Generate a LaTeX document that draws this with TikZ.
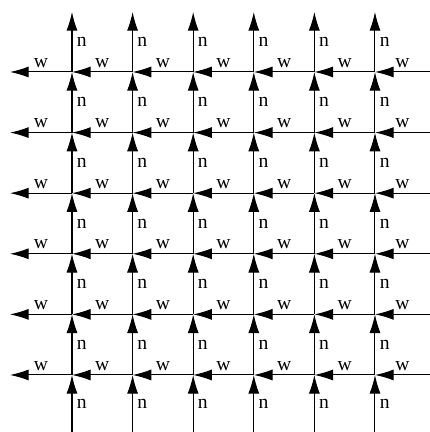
\documentclass[tikz,border=0pt]{standalone}
\usepackage{fontspec}
\setmainfont{Liberation Serif}
\usetikzlibrary{arrows.meta}
\tikzset{
  flow/.style={-{Latex[length=11pt,width=6.5pt]}, line width=0.6pt},
  lbl/.style={inner sep=2.5pt, font=\fontsize{11.5}{13}\selectfont}
}

\begin{document}
\begin{tikzpicture}[x=1.25cm,y=1.25cm]
    \useasboundingbox (0,0) rectangle (7.096,7.129);

    % grid points, row 0 on top
    \foreach \i in {0,...,5}
      \foreach \j in {0,...,5}
        \coordinate (p-\i-\j) at ({1.188+\i},{5.941-\j});

    % free ends on the border
    \foreach \i in {0,...,5} {
      \coordinate (top-\i) at ({1.188+\i},6.931);
      \coordinate (bot-\i) at ({1.188+\i},0);
      \coordinate (lft-\i) at (0.165,{5.941-\i});
      \coordinate (rgt-\i) at (7.096,{5.941-\i});
    }

    % north arrows
    \foreach \i in {0,...,5} {
      \draw[flow] (bot-\i) -- node[lbl,right] {n} (p-\i-5);
      \foreach \j/\k in {5/4,4/3,3/2,2/1,1/0}
        \draw[flow] (p-\i-\j) -- node[lbl,right] {n} (p-\i-\k);
      \draw[flow] (p-\i-0) -- node[lbl,right] {n} (top-\i);
    }

    % west arrows
    \foreach \j in {0,...,5} {
      \draw[flow] (rgt-\j) -- node[lbl,above] {w} (p-5-\j);
      \foreach \i/\k in {5/4,4/3,3/2,2/1,1/0}
        \draw[flow] (p-\i-\j) -- node[lbl,above] {w} (p-\k-\j);
      \draw[flow] (p-0-\j) -- node[lbl,above] {w} (lft-\j);
    }
\end{tikzpicture}
\end{document}
